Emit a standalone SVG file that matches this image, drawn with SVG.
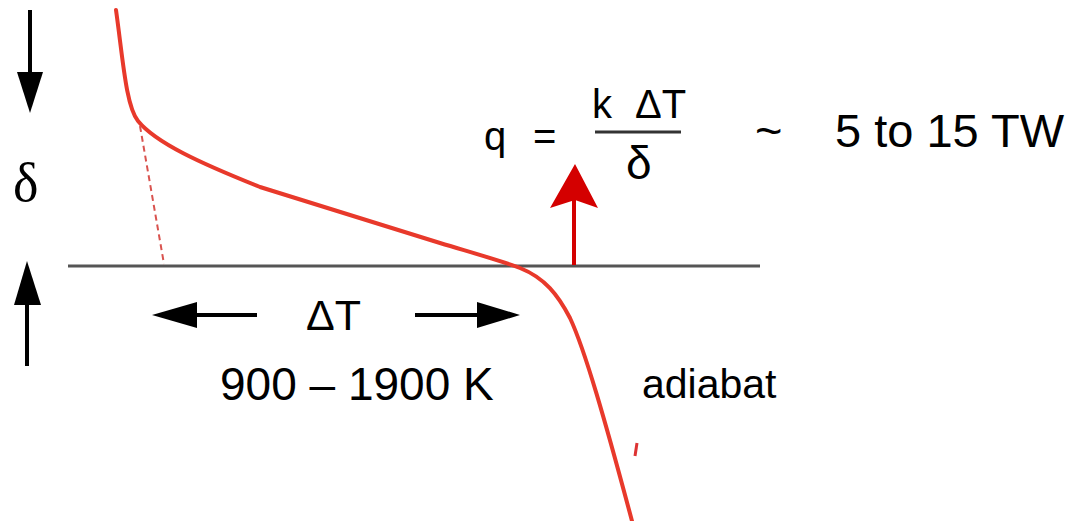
<svg xmlns="http://www.w3.org/2000/svg" width="1077" height="521" viewBox="0 0 1077 521">
<style>
.sans{font-family:"Liberation Sans",Arial,sans-serif;fill:#000}
.serif{font-family:"Liberation Serif","Times New Roman",serif;fill:#000}
.blk{fill:#000}
.curve{fill:none;stroke:#e8392b;stroke-width:4;stroke-linecap:round}
</style>
<rect width="1077" height="521" fill="#fff"/>
<g id="surface">
<line x1="68" y1="266" x2="760" y2="266" stroke="#555" stroke-width="3"/>
</g>
<g id="geotherm">
<path class="curve" d="M116,10 C123,60 126,106 138,121 C156,143 200,163 260,187 L440,243 C480,255 505,262 520,268 C545,278 558,295 570,318 C585,350 605,420 632,521"/>
<line x1="140" y1="126" x2="164" y2="264" stroke="#d9534f" stroke-width="2" stroke-dasharray="6,4"/>
<line x1="637" y1="443" x2="635" y2="456" stroke="#d33" stroke-width="3"/>
</g>
<g id="connectors">
<line x1="30" y1="10" x2="30" y2="74" stroke="#000" stroke-width="4"/>
<polygon class="blk" points="17,72 43,72 30,113"/>
<line x1="27" y1="300" x2="27" y2="366" stroke="#000" stroke-width="4"/>
<polygon class="blk" points="14,305 41,305 27,261"/>
<line x1="195" y1="315" x2="257" y2="315" stroke="#000" stroke-width="4"/>
<polygon class="blk" points="152,315 197,302 197,328"/>
<line x1="415" y1="315" x2="480" y2="315" stroke="#000" stroke-width="4"/>
<polygon class="blk" points="520,315 477,302 477,328"/>
<line x1="574" y1="265" x2="574" y2="200" stroke="#d40000" stroke-width="4"/>
<polygon fill="#d40000" points="575,164 598,208 575,200 550,208"/>
</g>
<g id="labels">
<text class="serif" x="13" y="201" font-size="54">δ</text>
<text class="sans" x="306" y="330" font-size="43">ΔT</text>
<text class="sans" x="220" y="400" font-size="46">900 – 1900 K</text>
<text class="sans" x="642" y="398" font-size="41">adiabat</text>
<text class="sans" x="484" y="150" font-size="40">q</text>
<text class="sans" x="533" y="150" font-size="40">=</text>
<text class="sans" x="592" y="118" font-size="40">k</text>
<text class="sans" x="635" y="118" font-size="40">ΔT</text>
<line x1="595" y1="132" x2="681" y2="132" stroke="#333" stroke-width="3"/>
<text class="sans" x="626" y="179" font-size="46">δ</text>
<text class="sans" x="755" y="147" font-size="47">~</text>
<text class="sans" x="835" y="147" font-size="47">5 to 15 TW</text>
</g>
</svg>
